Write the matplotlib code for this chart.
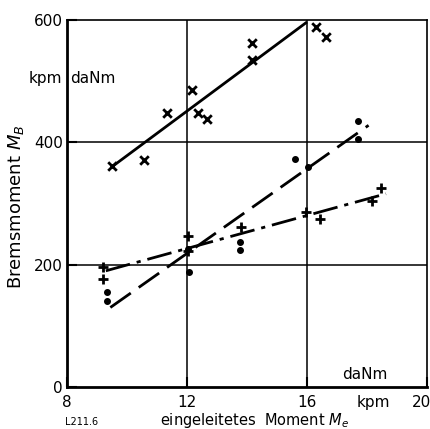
import numpy as np
import matplotlib
matplotlib.use("Agg")
import matplotlib.pyplot as plt
from matplotlib.transforms import offset_copy

plt.rcParams['font.family'] = ['Liberation Sans Narrow', 'DejaVu Sans']
plt.rcParams['mathtext.fontset'] = 'dejavusans'

# crosses (x) and fitted solid line
cross_x = [9.50, 10.56, 11.35, 12.16, 12.36, 12.66, 14.17, 14.17, 16.30, 16.62]
cross_y = [361, 371, 448, 486, 448, 439, 563, 535, 589, 573]
solid_x = [9.5, 16.0]
solid_y = [360, 597]

# dots and dashed line
dot_x = [9.33, 9.33, 12.05, 12.08, 13.78, 13.78, 15.59, 16.02, 17.71, 17.71]
dot_y = [156, 141, 225, 188, 237, 224, 373, 359, 435, 405]
dash_x = [9.45, 18.05]
dash_y = [130, 428]

# plus markers and dash-dot line
plus_x = [9.20, 9.20, 12.04, 12.04, 13.79, 15.98, 16.43, 18.18, 18.46]
plus_y = [196, 176, 247, 222, 262, 286, 274, 305, 326]
dd_x = [9.3, 18.63]
dd_y = [190, 316]

xticks = [8, 12, 16, 20]
xticklabels = ['8', '12', '16', '']
yticks = [0, 200, 400, 600]

fig = plt.figure(figsize=(4.31, 4.29), dpi=100)
ax = fig.add_axes([0.155, 0.098, 0.836, 0.855])
ax.set_xlim(8, 20)
ax.set_ylim(0, 600)

for v in [12, 16]:
    ax.axvline(v, color='black', lw=1.1, zorder=1)
for v in [200, 400]:
    ax.axhline(v, color='black', lw=1.1, zorder=1)

ax.plot(solid_x, solid_y, color='black', lw=2.0, solid_capstyle='butt')
ax.plot(dash_x, dash_y, color='black', lw=2.0, dashes=(9, 3.5))
ax.plot(dd_x, dd_y, color='black', lw=2.0, dashes=(9, 2.5, 1.5, 2.5))

ax.scatter(cross_x, cross_y, marker='x', s=38, color='black', linewidths=2.0, zorder=3)
ax.scatter(dot_x, dot_y, marker='o', s=16, color='black', zorder=3)
ax.scatter(plus_x, plus_y, marker='+', s=60, color='black', linewidths=2.0, zorder=3)

ax.set_xticks(xticks)
ax.set_xticklabels(xticklabels)
ax.set_yticks(yticks)
ax.tick_params(axis='both', direction='in', length=7, width=1.5, labelsize=11, colors='black')
ax.tick_params(axis='y', pad=3)
ax.tick_params(axis='x', pad=6)

for s in ['left', 'bottom']:
    ax.spines[s].set_linewidth(2.0)
for s in ['top', 'right']:
    ax.spines[s].set_linewidth(1.2)

xt = ax.get_xaxis_transform()
# last x tick label, pushed left so it stays inside the picture
ax.text(20, -0.022, '20', transform=offset_copy(xt, fig=fig, x=4, units='dots'),
        ha='right', va='top', fontsize=11)
ax.text(18.2, -0.022, 'kpm', transform=xt, ha='center', va='top', fontsize=11)

ax.set_ylabel(r'Bremsmoment $M_B$', fontsize=13)
ax.yaxis.set_label_coords(-0.114, 0.49)
ax.text(0.522, -0.103, r'eingeleitetes  Moment $M_e$', transform=ax.transAxes,
        ha='center', va='baseline', fontsize=10.5)
ax.text(-0.013, 0.828, 'kpm', transform=ax.transAxes, ha='right', va='baseline', fontsize=11)
ax.text(0.01, 0.828, 'daNm', transform=ax.transAxes, ha='left', va='baseline', fontsize=11)
ax.text(0.828, 0.033, 'daNm', transform=ax.transAxes, ha='center', va='center', fontsize=11)
fig.text(0.151, 0.009, 'L211.6', ha='left', va='baseline', fontsize=7)

fig.savefig('out.png', dpi=100)
